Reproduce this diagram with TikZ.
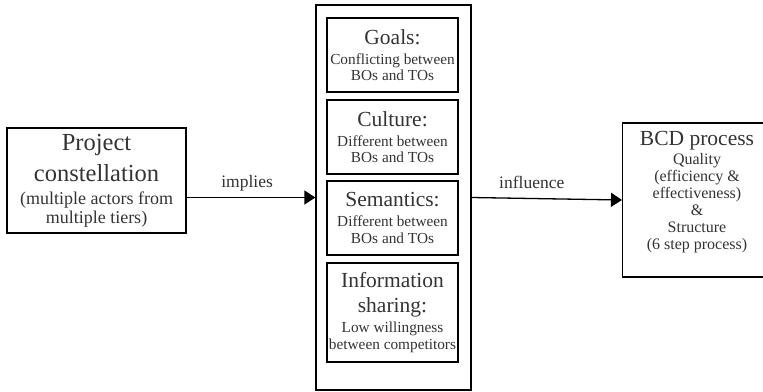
\documentclass[tikz,border=0pt]{standalone}
\usepackage{fontspec}
\setmainfont{Liberation Serif}
\usetikzlibrary{arrows.meta}
\definecolor{ink}{HTML}{333333}
\tikzset{
  box/.style={draw=black, line width=1.3pt, rectangle, inner sep=0pt, align=center, text=ink},
  inner/.style={box, minimum width=131pt, font=\fontsize{15.3}{16.5}\selectfont},
  flow/.style={draw=black, line width=1.3pt, -{Triangle[length=11pt,width=14pt]}},
  edgelabel/.style={text=ink, font=\fontsize{17.5}{19}\selectfont, anchor=base, inner sep=0pt}
}
\newcommand{\headA}[1]{{\fontsize{21.5}{22}\selectfont #1}}
\newcommand{\headB}[1]{{\fontsize{24.5}{26}\selectfont #1}}
\begin{document}
\begin{tikzpicture}[x=1pt,y=-1pt]
  \useasboundingbox (0,0) rectangle (763,391);

  % outer container
  \node[box, minimum width=155pt, minimum height=385pt] (mid) at (393.5,197.5) {};

  % stacked factor boxes
  \node[inner, minimum height=74pt] (goals) at (392.5,55)
    {\headA{Goals:}\\[3.5pt]Conflicting between\\BOs and TOs};
  \node[inner, minimum height=74pt] (culture) at (392.5,137)
    {\headA{Culture:}\\[3.5pt]Different between\\BOs and TOs};
  \node[inner, minimum height=74pt] (sem) at (392.5,218)
    {\headA{Semantics:}\\[3.5pt]Different between\\BOs and TOs};
  \node[inner, minimum height=99pt] (info) at (392.5,312.5)
    {\headA{Information}\\[8pt]\headA{sharing:}\\[4pt]Low willingness\\between competitors};

  % left box
  \node[box, minimum width=179pt, minimum height=105pt, font=\fontsize{18}{19}\selectfont] (proj) at (96.5,180.5)
    {\headB{Project}\\[8pt]\headB{constellation}\\[4pt](multiple actors from\\multiple tiers)};

  % right box, running on past the right edge
  \node[box, anchor=west, minimum width=190pt, minimum height=154pt] (bcd) at (622,200) {};
  \node[text=ink, align=center, inner sep=0pt, font=\fontsize{16}{17}\selectfont] (bcdtext) at (697,192)
    {\headA{BCD process}\\[2pt]Quality\\(efficiency \&\\effectiveness)\\\&\\Structure\\(6 step process)};

  % connectors
  \draw[flow] (proj.east |- mid.west) -- (mid.west)
    node[edgelabel, pos=0.47, yshift=10pt] {implies};
  \draw[flow] (mid.east) -- (bcd.west)
    node[edgelabel, pos=0.4, yshift=10pt] {influence};
\end{tikzpicture}
\end{document}
